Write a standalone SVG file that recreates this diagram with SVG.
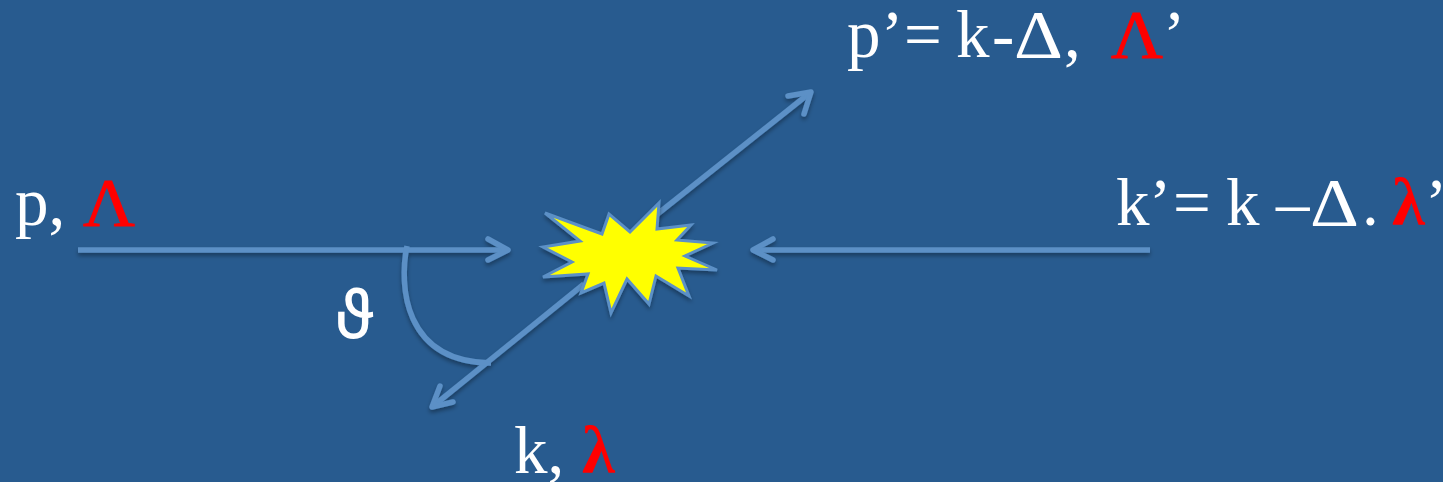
<svg xmlns="http://www.w3.org/2000/svg" width="1443" height="482" viewBox="0 0 1443 482">
<style>
.t{font-family:"Liberation Serif","Times New Roman",serif;font-size:67px;fill:#fff}
.r{fill:#f00;stroke:#f00;stroke-width:.9}
.l{fill:#f00;font-weight:bold}
.c{fill:none;stroke:#5b90c6;stroke-width:5.5;stroke-linecap:round;stroke-linejoin:round}
.b{stroke-linecap:butt}
</style>
<defs>
<filter id="sh" x="0" y="0" width="1443" height="482" filterUnits="userSpaceOnUse">
<feDropShadow dx="0" dy="3" stdDeviation="2" flood-color="#000" flood-opacity=".35"/>
</filter>
</defs>
<rect width="1443" height="482" fill="#285b8f"/>
<g id="connectors" filter="url(#sh)">
<path class="c b" d="M78 250H508"/>
<path class="c" d="M488 239L508 250L488 260"/>
<path class="c b" d="M1150 250H753"/>
<path class="c" d="M773 239L753 250L773 260"/>
<path class="c b" d="M655 216L811 92"/>
<path class="c" d="M788 96L811 92L804 114"/>
<path class="c b" d="M584 284L432 407"/>
<path class="c" d="M453 402L432 407L440 386"/>
<path class="c b" d="M407 246C399 285 403 362 491 363"/>
</g>
<g id="burst" filter="url(#sh)">
<polygon points="545,213 602,234 609,214 630,232 659,203 657,229 691,225 677,240 713,243 685,256 717,270 678,268 689,296 656,276 649,304 627,279 611,313 604,283 581,293 588,274 543,277 572,262 543,247 580,241" fill="#ff0" stroke="#5b90c6" stroke-width="3"/>
</g>
<g id="label-p"><text class="t" y="225"><tspan x="15">p,</tspan><tspan class="r" x="83" textLength="52" lengthAdjust="spacingAndGlyphs">Λ</tspan></text></g>
<g id="label-p-prime"><text class="t" y="57"><tspan x="847 881 904 940 956 992">p’= k-</tspan><tspan x="1014" textLength="49" lengthAdjust="spacingAndGlyphs">Δ</tspan><tspan x="1064">,</tspan><tspan class="r" x="1111" textLength="52" lengthAdjust="spacingAndGlyphs">Λ</tspan><tspan x="1163">’</tspan></text></g>
<g id="label-k-prime"><text class="t" y="225"><tspan x="1116 1149 1173 1209 1226 1262 1276">k’= k –</tspan><tspan x="1310" textLength="49" lengthAdjust="spacingAndGlyphs">Δ</tspan><tspan x="1362">.</tspan><tspan class="l" x="1392">λ</tspan><tspan x="1425">’</tspan></text></g>
<g id="label-k"><text class="t" y="473"><tspan x="514">k,</tspan><tspan class="l" x="582">λ</tspan></text></g>
<g id="label-theta"><text y="338" x="334" font-family="Roboto,sans-serif" font-size="70" fill="#fff">ϑ</text></g>
</svg>
